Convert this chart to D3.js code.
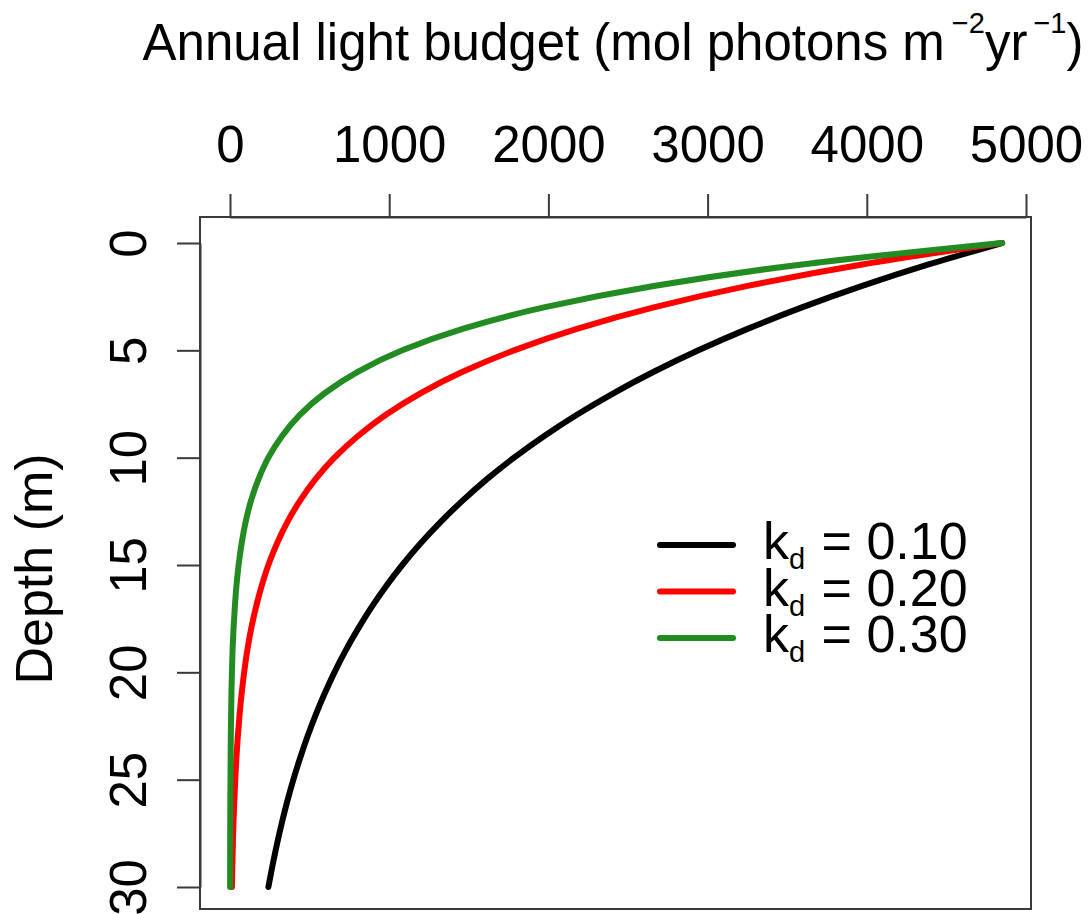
<!DOCTYPE html>
<html>
<head>
<meta charset="utf-8">
<script src="https://cdn.jsdelivr.net/npm/d3@7"></script>
<style>
  html, body { margin: 0; padding: 0; background: #fff; }
  text { font-family: "Liberation Sans", Arial, sans-serif; fill: #000; }
</style>
</head>
<body>
<svg id="chart" width="1089" height="914"></svg>
<script>
// ---- data ----
const depths = [0,1,2,3,4,5,6,7,8,9,10,11,12,13,14,15,16,17,18,19,20,21,22,23,24,25,26,27,28,29,30];
const light_kd010 = [4850,4388,3971,3593,3251,2942,2662,2408,2179,1972,1784,1614,1461,1322,1196,1082,979,886,802,725,656,594,537,486,440,398,360,326,295,267,241];
const light_kd020 = [4850,3971,3251,2662,2179,1784,1461,1196,979,802,656,537,440,360,295,241,198,162,132,108,89,73,60,49,40,33,27,22,18,15,12];
const light_kd030 = [4850,3593,2662,1972,1461,1082,802,594,440,326,241,179,132,98,73,54,40,30,22,16,12,9,7,5,4,3,2,1.5,1.1,0.8,0.6];
const seriesNames = ["0.10", "0.20", "0.30"];
const seriesColors = ["#000000", "#ff0000", "#228b22"];
const xTicks = [0, 1000, 2000, 3000, 4000, 5000];
const yTicks = [0, 5, 10, 15, 20, 25, 30];

const seriesValues = [light_kd010, light_kd020, light_kd030];

const svg = d3.select("#chart");
const x = d3.scaleLinear().domain([0, 5000]).range([230, 1026]);
const y = d3.scaleLinear().domain([0, 30]).range([243, 887]);

const box = {left: 200, right: 1031, top: 217, bottom: 909};
const axisColor = "#3a3a3a";

// plot box
svg.append("rect")
  .attr("x", box.left).attr("y", box.top)
  .attr("width", box.right - box.left).attr("height", box.bottom - box.top)
  .attr("fill", "none").attr("stroke", axisColor).attr("stroke-width", 2);

// top axis
const gx = svg.append("g").attr("transform", `translate(0,${box.top})`)
  .call(d3.axisTop(x).tickValues(xTicks).tickSize(23).tickSizeOuter(0).tickPadding(32).tickFormat(d3.format("d")));
gx.select(".domain").attr("stroke", axisColor).attr("stroke-width", 2);
gx.selectAll(".tick line").attr("stroke", axisColor).attr("stroke-width", 2);
gx.selectAll(".tick text").attr("font-size", 51).attr("font-family", "Liberation Sans, Arial, sans-serif").attr("fill", "#000");

// left axis
const gy = svg.append("g").attr("transform", `translate(${box.left},0)`)
  .call(d3.axisLeft(y).tickValues(yTicks).tickSize(23).tickSizeOuter(0).tickFormat(d3.format("d")));
gy.select(".domain").attr("stroke", axisColor).attr("stroke-width", 2);
gy.selectAll(".tick line").attr("stroke", axisColor).attr("stroke-width", 2);
gy.selectAll(".tick text")
  .attr("font-size", 51).attr("font-family", "Liberation Sans, Arial, sans-serif").attr("fill", "#000")
  .attr("x", 0).attr("y", -(box.left - 146)).attr("dy", 0)
  .attr("text-anchor", "middle")
  .attr("transform", "rotate(-90)");

// curves
const line = d3.line()
  .x(d => x(d[1]))
  .y(d => y(d[0]))
  .curve(d3.curveMonotoneY);

seriesValues.forEach((vals, i) => {
  svg.append("path")
    .datum(depths.map((dd, j) => [dd, vals[j]]))
    .attr("d", line)
    .attr("fill", "none")
    .attr("stroke", seriesColors[i])
    .attr("stroke-width", 6)
    .attr("stroke-linecap", "round")
    .attr("stroke-linejoin", "round");
});

// x title
const title = svg.append("text")
  .attr("x", 613).attr("y", 60)
  .attr("text-anchor", "middle")
  .attr("font-size", 51);
title.append("tspan").text("Annual light budget (mol photons m");
title.append("tspan").attr("dx", 7).attr("dy", -27).attr("font-size", 29).text("\u22122");
title.append("tspan").attr("dy", 27).text("yr");
title.append("tspan").attr("dx", 6).attr("dy", -27).attr("font-size", 29).text("\u22121");
title.append("tspan").attr("dy", 27).text(")");

// y title
svg.append("text")
  .attr("transform", "translate(52,569) rotate(-90)")
  .attr("text-anchor", "middle")
  .attr("font-size", 52)
  .text("Depth (m)");

// legend
const legY0 = 545, legDy = 46.5;
seriesNames.forEach((nm, i) => {
  const ly = legY0 + i * legDy;
  svg.append("line")
    .attr("x1", 660).attr("x2", 733)
    .attr("y1", ly).attr("y2", ly)
    .attr("stroke", seriesColors[i])
    .attr("stroke-width", 6)
    .attr("stroke-linecap", "round");
  const t = svg.append("text").attr("x", 763).attr("y", ly + 14).attr("font-size", 52);
  t.append("tspan").text("k");
  t.append("tspan").attr("dy", 10).attr("font-size", 29).text("d");
  t.append("tspan").attr("dy", -10).attr("dx", 2).text(" = " + nm);
});
</script>
</body>
</html>
